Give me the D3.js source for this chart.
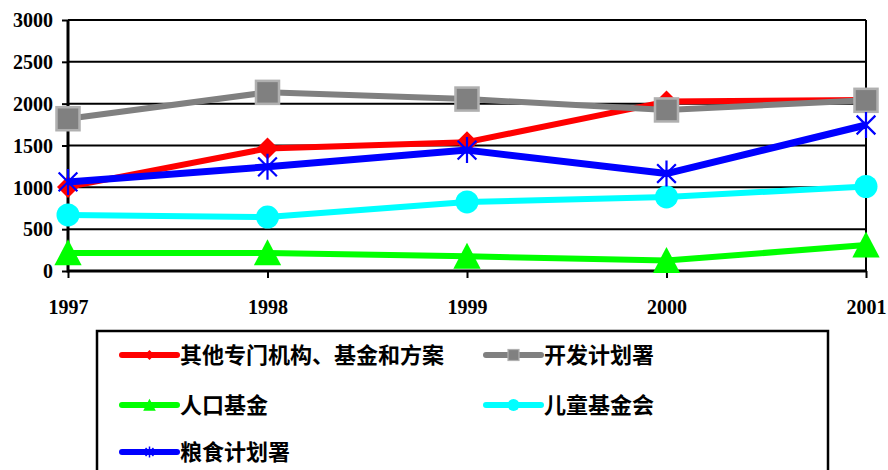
<!DOCTYPE html>
<html><head><meta charset="utf-8">
<script src="https://cdn.jsdelivr.net/npm/d3@7"></script>
<style>body{margin:0;background:#fff;}svg{display:block;}
.axl text{font-family:"Liberation Serif","Times New Roman",serif !important;font-weight:bold;font-size:20px;fill:#000;}
</style>
</head><body>
<svg id="c" width="888" height="470"></svg>
<script>
const years = ["1997","1998","1999","2000","2001"];
const yTicks = [0,500,1000,1500,2000,2500,3000];
const seriesNames = ["其他专门机构、基金和方案","开发计划署","人口基金","儿童基金会","粮食计划署"];
const otherAgencies = [1005,1465,1540,2025,2045];
const undp = [1820,2135,2055,1925,2040];
const unfpa = [215,215,175,125,310];
const unicef = [670,645,825,885,1010];
const wfp = [1065,1245,1445,1165,1745];
const seriesValues = [otherAgencies, undp, unfpa, unicef, wfp];
const colors = ["#ff0000","#808080","#00ff00","#00ffff","#0000ff"];
const markers = ["diamond","square","triangle","circle","asterisk"];

const svg = d3.select("#c");
const x = d3.scalePoint().domain(years).range([68,866]);
const y = d3.scaleLinear().domain([0,3000]).range([271,20]);

// grid
svg.append("g").selectAll("line").data(yTicks.filter(d=>d>0)).join("line")
  .attr("x1",68).attr("x2",866).attr("y1",d=>y(d)).attr("y2",d=>y(d))
  .attr("stroke","#000").attr("stroke-width",2);
// right border
svg.append("line").attr("x1",866).attr("x2",866).attr("y1",y(3000)).attr("y2",y(0)).attr("stroke","#000").attr("stroke-width",2);

// y axis
const ya = svg.append("g").attr("class","axl").attr("transform","translate(68,0)")
  .call(d3.axisLeft(y).tickValues(yTicks).tickSize(6).tickPadding(9).tickFormat(d3.format("d")));
ya.attr("font-family",null).attr("font-size",null);
ya.select(".domain").attr("stroke","#000").attr("stroke-width",3).attr("d","M0,"+y(3000)+"V"+(y(0)+1.5));
ya.selectAll(".tick line").attr("stroke","#000").attr("stroke-width",2);
ya.selectAll("text").attr("dy","0.34em");

// x axis
const xa = svg.append("g").attr("class","axl").attr("transform","translate(0,271)")
  .call(d3.axisBottom(x).tickSize(7).tickPadding(22));
xa.attr("font-family",null).attr("font-size",null);
xa.select(".domain").attr("stroke","#000").attr("stroke-width",3).attr("d","M68,0H866");
xa.selectAll(".tick line").attr("stroke","#000").attr("stroke-width",2);

function drawMarker(g, type, color, s) {
  if (type==="diamond") {
    g.append("path").attr("d",`M0,${-s}L${s},0L0,${s}L${-s},0Z`).attr("fill",color);
  } else if (type==="square") {
    g.append("rect").attr("x",-s).attr("y",-s).attr("width",2*s).attr("height",2*s)
      .attr("fill","#808080").attr("stroke","#b0b0b0").attr("stroke-width",s*0.22);
  } else if (type==="triangle") {
    g.append("path").attr("d",`M0,${-s*1.05}L${s*1.05},${s*0.95}L${-s*1.05},${s*0.95}Z`).attr("fill",color);
  } else if (type==="circle") {
    g.append("circle").attr("r",s).attr("fill",color);
  } else if (type==="asterisk") {
    const d = s*0.72;
    g.append("path").attr("d",`M${-d},${-d}L${d},${d}M${d},${-d}L${-d},${d}M0,${-s}L0,${s}`)
      .attr("stroke",color).attr("stroke-width",Math.max(1.5,s*0.17)).attr("fill","none");
  }
}
const mSize = [11,11.5,13,11.5,13];
const lineW = [6,6,6,6,7];
const line = d3.line().x((d,i)=>x(years[i])).y(d=>y(d));
seriesValues.forEach((vals,k)=>{
  const g = svg.append("g");
  g.append("path").attr("d",line(vals)).attr("fill","none").attr("stroke",colors[k]).attr("stroke-width",lineW[k]).attr("stroke-linejoin","round");
  vals.forEach((v,i)=>{
    const mg = g.append("g").attr("transform",`translate(${x(years[i])},${y(v)})`);
    drawMarker(mg, markers[k], colors[k], mSize[k]);
  });
});

// legend
svg.append("rect").attr("x",97).attr("y",331).attr("width",731).attr("height",160)
  .attr("fill","none").attr("stroke","#000").attr("stroke-width",2.5);
const legPos = [[120,355],[484,355],[120,405],[484,405],[120,452]];
const legMS = [5,5.5,6,6,5.5];
seriesNames.forEach((n,k)=>{
  const [lx,ly] = legPos[k];
  const g = svg.append("g");
  g.append("line").attr("x1",lx+2).attr("x2",lx+57).attr("y1",ly).attr("y2",ly)
    .attr("stroke",colors[k]).attr("stroke-width",6).attr("stroke-linecap","round");
  const mg = g.append("g").attr("transform",`translate(${lx+29.5},${ly})`);
  drawMarker(mg, markers[k], colors[k], legMS[k]);
  g.append("text").attr("x",lx+60).attr("y",ly).attr("dy","0.36em")
    .style("font-family","'Noto Sans CJK SC', sans-serif").style("font-weight","bold").style("font-size","22px").attr("fill","#000").text(n);
});
</script>
</body></html>
